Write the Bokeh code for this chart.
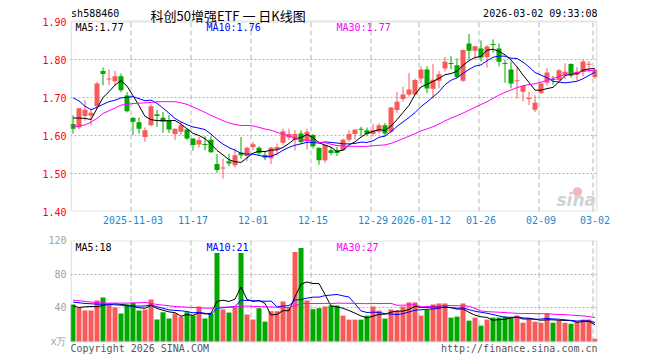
from bokeh.plotting import figure
from bokeh.models import Range1d, FixedTicker, Label, PrintfTickFormatter, BoxAnnotation
from bokeh.layouts import column
from bokeh.embed import file_html
from bokeh.resources import INLINE

# ---------------- data ----------------
opens = [1.630,1.621,1.651,1.652,1.677,1.770,1.748,1.743,1.756,1.705,
         1.647,1.635,1.596,1.627,1.656,1.647,1.640,1.604,1.610,1.616,
         1.592,1.576,1.577,1.589,1.525,1.514,1.532,1.522,1.555,1.546,
         1.570,1.568,1.549,1.540,1.563,1.581,1.595,1.588,1.605,1.586,
         1.601,1.568,1.535,1.561,1.561,1.561,1.589,1.604,1.617,1.614,
         1.604,1.610,1.627,1.610,1.667,1.696,1.708,1.708,1.750,1.774,
         1.723,1.744,1.776,1.790,1.785,1.744,1.842,1.823,1.829,1.806,
         1.840,1.829,1.790,1.774,1.743,1.715,1.697,1.668,1.712,1.739,
         1.749,1.746,1.759,1.788,1.760,1.768,1.787,1.753]
highs = [1.653,1.672,1.693,1.667,1.741,1.779,1.774,1.770,1.763,1.714,
         1.647,1.647,1.621,1.682,1.668,1.662,1.654,1.618,1.636,1.618,
         1.592,1.596,1.598,1.598,1.551,1.539,1.551,1.566,1.596,1.570,
         1.583,1.572,1.557,1.570,1.579,1.618,1.618,1.614,1.614,1.618,
         1.604,1.568,1.575,1.570,1.570,1.592,1.614,1.616,1.623,1.621,
         1.630,1.632,1.633,1.675,1.715,1.728,1.765,1.750,1.782,1.782,
         1.789,1.770,1.807,1.809,1.803,1.826,1.867,1.835,1.850,1.838,
         1.853,1.842,1.800,1.794,1.781,1.732,1.715,1.706,1.739,1.778,
         1.757,1.775,1.790,1.790,1.780,1.800,1.796,1.775]
lows = [1.605,1.616,1.639,1.627,1.671,1.732,1.732,1.732,1.714,1.661,
        1.601,1.605,1.583,1.625,1.623,1.607,1.607,1.588,1.601,1.588,
        1.560,1.568,1.561,1.554,1.502,1.487,1.519,1.516,1.539,1.533,
        1.561,1.546,1.535,1.525,1.548,1.575,1.588,1.561,1.577,1.563,
        1.566,1.523,1.528,1.548,1.546,1.560,1.583,1.589,1.598,1.598,
        1.598,1.605,1.598,1.607,1.660,1.689,1.702,1.706,1.737,1.712,
        1.697,1.724,1.768,1.774,1.750,1.741,1.800,1.803,1.795,1.779,
        1.818,1.782,1.739,1.724,1.697,1.690,1.680,1.662,1.709,1.731,
        1.734,1.742,1.748,1.752,1.745,1.755,1.765,1.750]
closes = [1.618,1.672,1.668,1.660,1.737,1.762,1.749,1.756,1.719,1.664,
          1.636,1.618,1.614,1.677,1.651,1.636,1.616,1.618,1.627,1.592,
          1.575,1.588,1.576,1.556,1.509,1.515,1.526,1.548,1.548,1.568,
          1.577,1.553,1.542,1.568,1.570,1.611,1.604,1.604,1.583,1.610,
          1.572,1.535,1.575,1.554,1.554,1.589,1.604,1.616,1.616,1.604,
          1.614,1.627,1.605,1.674,1.689,1.708,1.721,1.746,1.774,1.724,
          1.747,1.761,1.794,1.789,1.754,1.825,1.823,1.835,1.805,1.834,
          1.839,1.794,1.789,1.737,1.745,1.730,1.698,1.686,1.737,1.766,
          1.746,1.772,1.768,1.757,1.768,1.795,1.788,1.773]
volumes = [44.0,40.0,36.8,36.8,48.8,52.4,45.6,40.4,33.2,44.0,
           45.6,36.8,38.0,50.0,26.0,34.8,27.2,33.2,29.6,34.8,
           30.8,41.6,27.2,33.2,105.2,38.0,34.4,40.8,105.2,32.0,
           26.0,39.6,23.6,36.0,36.0,47.6,39.6,106.4,111.2,48.8,
           38.4,39.6,41.6,42.8,42.8,30.8,26.0,26.0,26.0,30.8,
           41.6,36.8,27.2,38.0,36.8,41.6,46.4,46.4,30.8,38.0,
           44.0,45.2,45.2,28.4,29.6,45.2,24.8,28.4,18.8,26.0,
           28.4,28.4,29.6,28.4,30.8,22.4,27.2,23.6,22.4,33.2,
           22.4,24.8,22.4,21.2,23.6,26.0,26.0,3.2]

# moving-average values at the first candles (their windows reach before the chart)
ma5_head = [1.646, 1.646, 1.645, 1.642]
ma10_head = [1.699, 1.691, 1.677, 1.668, 1.674, 1.682, 1.689, 1.693, 1.699]
ma30_head = [1.623, 1.625, 1.628, 1.635, 1.645, 1.658, 1.665, 1.672, 1.680, 1.682,
             1.684, 1.685, 1.686, 1.687, 1.689, 1.689, 1.689, 1.689, 1.686, 1.682,
             1.675, 1.668, 1.661, 1.653, 1.646, 1.639, 1.633, 1.629, 1.626]
vma5_head = [42.4, 40.4, 41.2, 41.6]
vma10_head = [46.8, 46.0, 45.2, 44.8, 44.4, 44.4, 44.0, 43.6, 43.2]
vma30_head = [49.2, 48.4, 47.6, 46.8, 46.4, 46.0, 45.6, 45.6, 45.6, 45.6,
              46.0, 46.0, 46.4, 45.2, 44.0, 43.2, 42.4, 41.6, 41.2, 40.8,
              40.4, 40.0, 39.6, 39.6, 40.4, 40.8, 40.8, 41.2, 41.6]

tick_idx = [10, 20, 30, 40, 50, 58, 68, 78, 87]
tick_labels = ["2025-11-03", "11-17", "12-01", "12-15", "12-29",
               "2026-01-12", "01-26", "02-09", "03-02"]
price_min, price_max = 1.40, 1.90
price_ticks = [1.40, 1.50, 1.60, 1.70, 1.80, 1.90]
price_grid = [1.50, 1.60, 1.70, 1.80]
vol_min, vol_max = 0, 120
vol_ticks = [0, 40, 80, 120]
vol_grid = [40, 80]
vol_unit = "x万"

code_text = "sh588460"
title_text = "科创50增强ETF 一 日K线图"
time_text = "2026-03-02 09:33:08"
price_ma_text = ["MA5:1.77", "MA10:1.76", "MA30:1.77"]
vol_ma_text = ["MA5:18", "MA10:21", "MA30:27"]
copyright_text = "Copyright 2026 SINA.COM"
url_text = "http://finance.sina.com.cn"


def rolling(vals, n, head):
    out = list(head)
    for i in range(len(head), len(vals)):
        out.append(sum(vals[i - n + 1:i + 1]) / n)
    return out


ma5 = rolling(closes, 5, ma5_head)
ma10 = rolling(closes, 10, ma10_head)
ma30 = rolling(closes, 30, ma30_head)
vma5 = rolling(volumes, 5, vma5_head)
vma10 = rolling(volumes, 10, vma10_head)
vma30 = rolling(volumes, 30, vma30_head)

# ---------------- styling / geometry ----------------
RED = "#F85A5A"
GREEN = "#00A800"
GRID = "#B4B4B4"
FRAME = "#A8A8A8"
MONO = "DejaVu Sans Mono"
CJK = "Noto Sans CJK SC"
BLUE_DATE = "#1A8AD4"
MA_COLORS = ["#000000", "#0000FF", "#FF00FF"]

n = len(closes)
xs = list(range(n))
colors = [RED if c >= o else GREEN for o, c in zip(opens, closes)]
min_body = 0.0027
tops, bots = [], []
for o, c in zip(opens, closes):
    t, b = max(o, c), min(o, c)
    if t - b < min_body:
        m = (t + b) / 2
        t, b = m + min_body / 2, m - min_body / 2
    tops.append(t)
    bots.append(b)

PX = 6.0                      # pixels per candle
BW = 5 / PX
x_start = -2.5 / PX
FRAME_W = 527
x_end = FRAME_W / PX + x_start
W = 660
LEFT = 70
RIGHT = W - LEFT - FRAME_W

# price panel: 190 px for the price range, 21 px of header room above it
P1_H, P1_BOTTOM, P1_TOP_ROOM = 232, 21, 21
price_px = 190
y1_end = price_max + P1_TOP_ROOM * (price_max - price_min) / price_px
# volume panel: 101 px for the volume range, 19 px of footer room below it
P2_H, P2_TOP, vol_px, P2_FOOT = 128, 8, 101, 19
y2_start = vol_min - P2_FOOT * (vol_max - vol_min) / vol_px

grid_x = [t - 1 / 3 for t in tick_idx]


def style_common(p, lo, hi, hgrid):
    p.outline_line_color = None
    p.background_fill_color = "white"
    p.border_fill_color = "white"
    p.xgrid.visible = False
    p.ygrid.ticker = FixedTicker(ticks=hgrid)
    p.ygrid.grid_line_color = GRID
    p.ygrid.grid_line_dash = "2 2"
    # dashed date lines, only inside the panel box
    p.segment(x0=grid_x, y0=[lo] * len(grid_x), x1=grid_x, y1=[hi] * len(grid_x),
              line_color=GRID, line_width=1, line_dash="5 3")
    p.add_layout(BoxAnnotation(left=x_start + 0.6 / PX, right=x_end - 0.6 / PX,
                               bottom=lo, top=hi, fill_color=None,
                               line_color=FRAME, line_width=2))
    for ax in p.yaxis:
        ax.major_tick_out = 0
        ax.major_tick_in = 0
        ax.minor_tick_out = 0
        ax.minor_tick_in = 0
        ax.axis_line_color = None
        ax.major_label_text_font = MONO
        ax.major_label_text_font_size = "10px"
        ax.major_label_standoff = 4


def label(p, x, y, text, color="#000000", font=MONO, size="10px", align="left", **kw):
    p.add_layout(Label(x=x, y=y, x_units="screen", y_units="screen", text=text,
                       text_font=font, text_font_size=size, text_color=color,
                       text_baseline="middle", text_align=align, **kw))


# ---------------- price panel ----------------
p1 = figure(width=W, height=P1_H, x_range=Range1d(x_start, x_end),
            y_range=Range1d(price_min, y1_end), output_backend="svg",
            toolbar_location=None, min_border_left=LEFT, min_border_right=RIGHT,
            min_border_top=0, min_border_bottom=P1_BOTTOM)
style_common(p1, price_min, price_max, price_grid)
p1.yaxis.ticker = FixedTicker(ticks=price_ticks)
p1.yaxis.formatter = PrintfTickFormatter(format="%.2f")
p1.yaxis.major_label_text_color = "#FF0000"
p1.xaxis.ticker = FixedTicker(ticks=tick_idx)
p1.xaxis.major_label_overrides = {t: s for t, s in zip(tick_idx, tick_labels)}
p1.xaxis.major_tick_out = 0
p1.xaxis.major_tick_in = 0
p1.xaxis.minor_tick_out = 0
p1.xaxis.minor_tick_in = 0
p1.xaxis.axis_line_color = None
p1.xaxis.major_label_text_font = MONO
p1.xaxis.major_label_text_font_size = "10px"
p1.xaxis.major_label_text_color = BLUE_DATE
p1.xaxis.major_label_standoff = 4

p1.segment(x0=xs, y0=lows, x1=xs, y1=highs, line_color=colors, line_width=1)
p1.vbar(x=xs, width=BW, top=tops, bottom=bots, fill_color=colors, line_color=None)
for vals, col in zip([ma5, ma10, ma30], MA_COLORS):
    p1.line(xs, vals, line_color=col, line_width=1)

# header (frame-relative screen px, y measured up from the frame bottom)
F1 = P1_H - P1_BOTTOM           # frame height in px
label(p1, 0.6, F1 - 13, code_text)
label(p1, 80, F1 - 14.5, title_text, font=CJK, size="13px")
label(p1, FRAME_W, F1 - 13, time_text, align="right")
for xx, txt, col in zip([5, 136, 266], price_ma_text, MA_COLORS):
    label(p1, xx, F1 - 26.5, txt, color=col)
label(p1, 507, 21, "●", color="#F4B8B8", font="DejaVu Sans", size="12px", align="center")
label(p1, 486, 12, "sina", color="#D2D2D2", font="DejaVu Sans", size="17px",
      text_font_style="bold italic")

# ---------------- volume panel ----------------
p2 = figure(width=W, height=P2_H, x_range=p1.x_range, y_range=Range1d(y2_start, vol_max),
            output_backend="svg", toolbar_location=None, x_axis_location=None,
            min_border_left=LEFT, min_border_right=RIGHT, min_border_top=P2_TOP,
            min_border_bottom=0)
style_common(p2, vol_min, vol_max, vol_grid)
p2.yaxis.ticker = FixedTicker(ticks=vol_ticks)
p2.yaxis.major_label_overrides = {0: vol_unit}
p2.yaxis.major_label_text_color = "#A0A0A0"

p2.vbar(x=xs, width=BW, top=volumes, bottom=0, fill_color=colors, line_color=None)
for vals, col in zip([vma5, vma10, vma30], MA_COLORS):
    p2.line(xs, vals, line_color=col, line_width=1)

F2 = P2_H - P2_TOP
for xx, txt, col in zip([5, 136, 266], vol_ma_text, MA_COLORS):
    label(p2, xx, F2 - 6.5, txt, color=col)
label(p2, 0, 12.5, copyright_text, color="#555555")
label(p2, FRAME_W, 12.5, url_text, color="#555555", align="right")

layout = column(p1, p2, spacing=0)
open("out.html", "w").write(file_html(layout, INLINE))
